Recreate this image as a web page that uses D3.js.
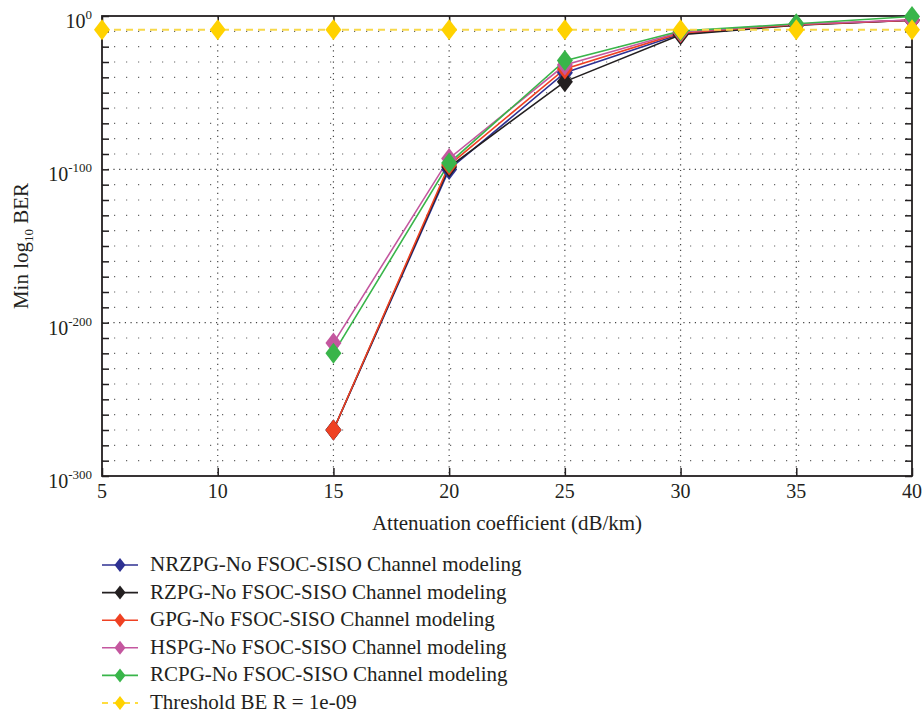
<!DOCTYPE html>
<html>
<head>
<meta charset="utf-8">
<script src="https://cdn.jsdelivr.net/npm/d3@7"></script>
<style>
  body { margin: 0; background: #fff; }
  text { font-family: "Liberation Serif", "DejaVu Serif", serif; fill: #231f20; }
</style>
</head>
<body>
<div id="chart"></div>
<script>
// data: log10(BER)
var attenuation = [15, 20, 25, 30, 35, 40];
var nrzpg = [-270, -100.1, -37, -11.7, -5.8, -2.8];
var rzpg  = [-270, -98.5, -42.8, -12.2, -6, -2.8];
var gpg   = [-270, -97.2, -34.5, -11, -5.7, -2.7];
var hspg  = [-213.3, -92.9, -32, -10.4, -5.4, -2.6];
var rcpg  = [-220, -95.9, -29.1, -9.8, -5.1, -0.3];
var thresholdX = [5, 10, 15, 20, 25, 30, 35, 40];
var thresholdLog = -9;

var seriesNames = [
  "NRZPG-No FSOC-SISO Channel modeling",
  "RZPG-No FSOC-SISO Channel modeling",
  "GPG-No FSOC-SISO Channel modeling",
  "HSPG-No FSOC-SISO Channel modeling",
  "RCPG-No FSOC-SISO Channel modeling"
];
var seriesValues = [nrzpg, rzpg, gpg, hspg, rcpg];
var seriesColors = ["#2e3192", "#231f20", "#ef4123", "#c4579f", "#39b54a"];
var thresholdName = "Threshold BE R = 1e-09";
var thresholdColor = "#ffd200";

var xTicks = [5, 10, 15, 20, 25, 30, 35, 40];
var yTicks = [0, -100, -200, -300];

var W = 924, H = 716;
var margin = {top: 16, right: 12, bottom: 240, left: 102},
    width = W - margin.left - margin.right,
    height = H - margin.top - margin.bottom;

var svg = d3.select("#chart")
  .append("svg")
    .attr("width", W)
    .attr("height", H)
  .append("g")
    .attr("transform", "translate(" + margin.left + "," + margin.top + ")");

var x = d3.scaleLinear().domain([5, 40]).range([0, width]);
var y = d3.scaleLinear().domain([-300, 0]).range([height, 0]);

var minorY = d3.range(-290, 0, 10).filter(function(v) { return v % 100 != 0; });

// minor horizontal grid (sparse dots)
svg.append("g").selectAll("line")
  .data(minorY)
  .enter().append("line")
    .attr("x1", 0).attr("x2", width)
    .attr("y1", d => y(d)).attr("y2", d => y(d))
    .style("stroke", "#666")
    .style("stroke-width", 1.2)
    .style("stroke-dasharray", "1.2,10.8");

// major grid (dense dots)
svg.append("g").selectAll("line")
  .data([-100, -200])
  .enter().append("line")
    .attr("x1", 0).attr("x2", width)
    .attr("y1", d => y(d)).attr("y2", d => y(d))
    .style("stroke", "#444")
    .style("stroke-width", 1.2)
    .style("stroke-dasharray", "1.2,4.5");
svg.append("g").selectAll("line")
  .data(xTicks.slice(1, -1))
  .enter().append("line")
    .attr("x1", d => x(d)).attr("x2", d => x(d))
    .attr("y1", 0).attr("y2", height)
    .style("stroke", "#444")
    .style("stroke-width", 1.2)
    .style("stroke-dasharray", "1.2,4.5");

// axes with inward ticks
var axisStyle = function(g) {
  g.selectAll("path, line").style("stroke", "#231f20").style("stroke-width", 1.5);
  g.select(".domain").remove();
};
svg.append("g")
  .attr("transform", "translate(0," + height + ")")
  .call(d3.axisBottom(x).tickValues(xTicks).tickSize(-8).tickFormat(""))
  .call(axisStyle);
svg.append("g")
  .call(d3.axisTop(x).tickValues(xTicks).tickSize(-8).tickFormat(""))
  .call(axisStyle);
svg.append("g")
  .call(d3.axisLeft(y).tickValues(d3.range(-300, 1, 10)).tickSize(-7).tickFormat(""))
  .call(axisStyle);
svg.append("g")
  .attr("transform", "translate(" + width + ",0)")
  .call(d3.axisRight(y).tickValues(d3.range(-300, 1, 10)).tickSize(-7).tickFormat(""))
  .call(axisStyle);

// frame
svg.append("rect")
  .attr("x", 0).attr("y", 0)
  .attr("width", width).attr("height", height)
  .style("fill", "none")
  .style("stroke", "#231f20")
  .style("stroke-width", 1.8);

// x tick labels
svg.append("g").selectAll("text")
  .data(xTicks)
  .enter().append("text")
    .attr("x", d => x(d))
    .attr("y", height + 22)
    .attr("text-anchor", "middle")
    .style("font-size", "20px")
    .text(d => d);

// y tick labels 10^n
var yLab = svg.append("g").selectAll("text")
  .data(yTicks)
  .enter().append("text")
    .attr("x", -10)
    .attr("y", d => y(d) + 12)
    .attr("text-anchor", "end")
    .style("font-size", "20px");
yLab.append("tspan").text("10");
yLab.append("tspan")
  .attr("dy", -9)
  .style("font-size", "13px")
  .text(d => d);

// axis titles
svg.append("text")
  .attr("x", width / 2)
  .attr("y", height + 54)
  .attr("text-anchor", "middle")
  .style("font-size", "21px")
  .text("Attenuation coefficient (dB/km)");

var yTitle = svg.append("text")
  .attr("transform", "translate(" + (-74) + "," + (230) + ") rotate(-90)")
  .attr("text-anchor", "middle")
  .style("font-size", "21px");
yTitle.append("tspan").text("Min log");
yTitle.append("tspan").attr("dy", 5).style("font-size", "13px").text("10");
yTitle.append("tspan").attr("dy", -5).text(" BER");

// diamond marker
var diamond = function(hw, hh) {
  return "M0," + (-hh) + "L" + hw + ",0L0," + hh + "L" + (-hw) + ",0Z";
};

var line = d3.line()
  .x(d => x(d[0]))
  .y(d => y(d[1]));

seriesValues.forEach(function(vals, i) {
  var pts = attenuation.map(function(a, j) { return [a, vals[j]]; });
  svg.append("path")
    .datum(pts)
    .attr("d", line)
    .style("fill", "none")
    .style("stroke", seriesColors[i])
    .style("stroke-width", 1.6);
});
seriesValues.forEach(function(vals, i) {
  var pts = attenuation.map(function(a, j) { return [a, vals[j]]; });
  svg.append("g").selectAll("path")
    .data(pts)
    .enter().append("path")
      .attr("transform", d => "translate(" + x(d[0]) + "," + y(d[1]) + ")")
      .attr("d", diamond(8, 10.5))
      .style("fill", seriesColors[i]);
});

// threshold
var thrPts = thresholdX.map(function(a) { return [a, thresholdLog]; });
svg.append("path")
  .datum(thrPts)
  .attr("d", line)
  .style("fill", "none")
  .style("stroke", "#f7d84a")
  .style("stroke-width", 2)
  .style("stroke-dasharray", "7,5");
svg.append("g").selectAll("path")
  .data(thrPts)
  .enter().append("path")
    .attr("transform", d => "translate(" + x(d[0]) + "," + y(d[1]) + ")")
    .attr("d", diamond(8, 10.5))
    .style("fill", thresholdColor);

// legend
var legend = svg.append("g")
  .attr("transform", "translate(0," + (height + 89) + ")");
var legendItems = seriesNames.map(function(n, i) {
  return {name: n, color: seriesColors[i], dash: null};
});
legendItems.push({name: thresholdName, color: thresholdColor, dash: "6,5"});

var rows = legend.selectAll("g")
  .data(legendItems)
  .enter().append("g")
    .attr("transform", (d, i) => "translate(0," + (i * 27.6) + ")");
rows.append("line")
  .attr("x1", 0).attr("x2", 36)
  .attr("y1", 0).attr("y2", 0)
  .style("stroke", d => d.color)
  .style("stroke-width", 1.6)
  .style("stroke-dasharray", d => d.dash);
rows.append("path")
  .attr("transform", "translate(18,0)")
  .attr("d", diamond(5.5, 7))
  .style("fill", d => d.color);
rows.append("text")
  .attr("x", 48)
  .attr("y", 6)
  .style("font-size", "21px")
  .text(d => d.name);
</script>
</body>
</html>
